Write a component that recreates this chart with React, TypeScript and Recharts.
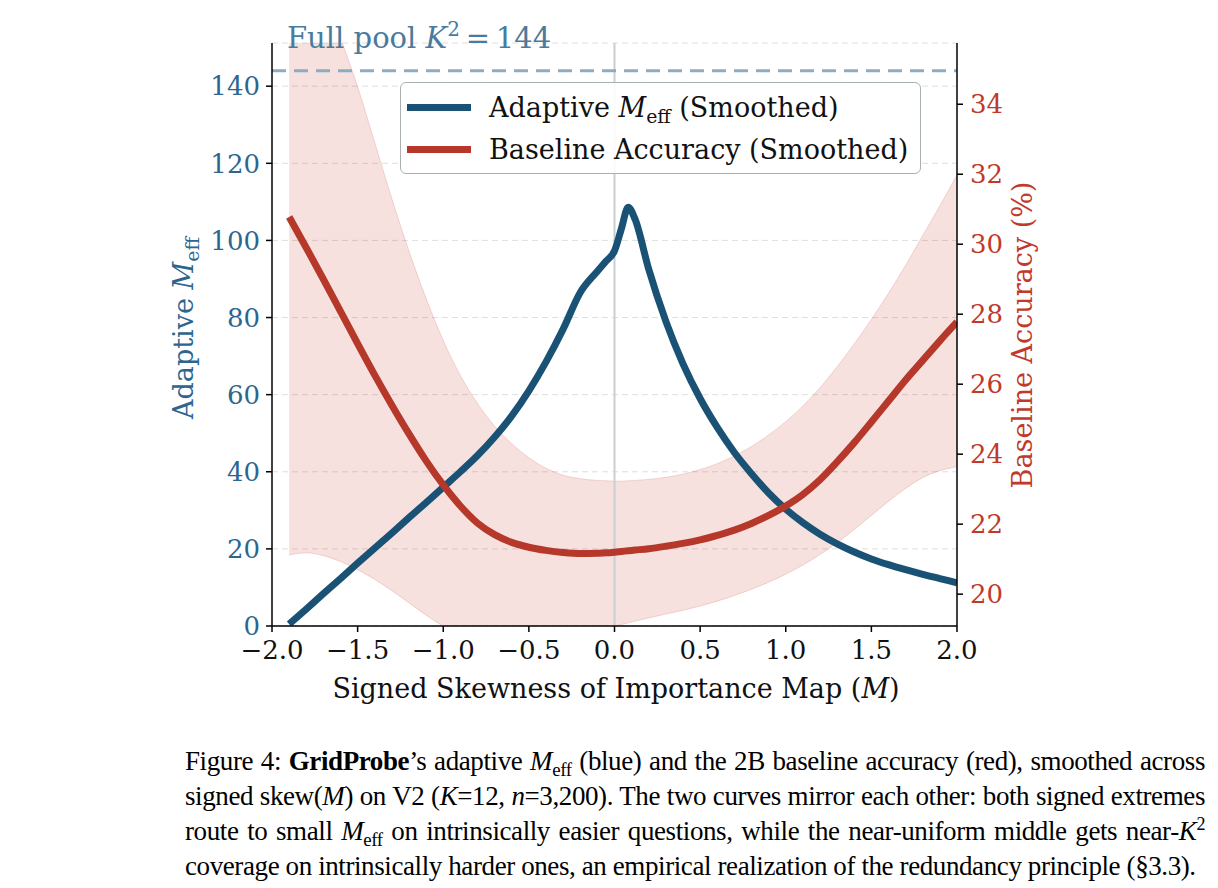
import React from "react";
import {
  ComposedChart,
  Line,
  Area,
  XAxis,
  YAxis,
  CartesianGrid,
  ReferenceLine,
  Legend,
} from "recharts";

// signed skewness sample points (x)
const XS = [
  -1.9, -1.8, -1.7, -1.6, -1.5, -1.4, -1.3, -1.2, -1.1, -1.0, -0.9, -0.8, -0.7, -0.6, -0.5, -0.4, -0.3, -0.2,
  -0.1, -0.05, 0, 0.04, 0.08, 0.12, 0.2, 0.3, 0.4, 0.5, 0.6, 0.7, 0.8, 0.9, 1.0, 1.1, 1.2, 1.3, 1.4, 1.5, 1.6,
  1.7, 1.8, 1.9, 2.0,
];

// adaptive M_eff (left axis)
const MEFF = [
  0.5, 4.4, 8.4, 12.3, 16.3, 20.2, 24.1, 28.1, 32, 36, 40, 44.2, 49, 54.5, 61, 68.5, 77, 86.5, 92, 94.6, 97.3,
  103, 108.6, 105.5, 92.5, 79, 68, 59, 51.5, 45, 39.5, 34.5, 30.3, 26.8, 23.8, 21.3, 19.2, 17.4, 15.9, 14.6,
  13.4, 12.3, 11.2,
];

// baseline accuracy % (right axis)
const ACC = [
  30.78, 29.9, 29.0, 28.08, 27.16, 26.26, 25.4, 24.58, 23.81, 23.12, 22.52, 22.03, 21.7, 21.48, 21.34, 21.25,
  21.19, 21.16, 21.17, 21.18, 21.2, 21.22, 21.24, 21.26, 21.3, 21.37, 21.45, 21.55, 21.68, 21.83, 22.02, 22.25,
  22.52, 22.85, 23.27, 23.78, 24.33, 24.92, 25.52, 26.12, 26.68, 27.24, 27.78,
];

// accuracy band
const ACC_LO = [
  21.12, 21.18, 21.1, 20.93, 20.7, 20.42, 20.1, 19.75, 19.4, 19.08, 18.8, 18.57, 18.4, 18.3, 18.27, 18.3, 18.4,
  18.55, 18.78, 18.92, 19.08, 19.13, 19.18, 19.23, 19.32, 19.43, 19.54, 19.66, 19.8, 19.96, 20.14, 20.34, 20.57,
  20.83, 21.13, 21.47, 21.85, 22.25, 22.65, 23.02, 23.33, 23.53, 23.64,
];
const ACC_HI = [
  40.5, 38.9, 37.3, 35.9, 34.5, 32.9, 31.3, 29.8, 28.45, 27.25, 26.25, 25.45, 24.8, 24.3, 23.9, 23.6, 23.4,
  23.3, 23.25, 23.24, 23.23, 23.23, 23.24, 23.25, 23.28, 23.34, 23.43, 23.56, 23.73, 23.95, 24.22, 24.55, 24.93,
  25.38, 25.9, 26.5, 27.15, 27.85, 28.6, 29.4, 30.25, 31.1, 31.98,
];

const X_TICKS = [-2, -1.5, -1, -0.5, 0, 0.5, 1, 1.5, 2];
const LEFT_TICKS = [0, 20, 40, 60, 80, 100, 120, 140];
const RIGHT_TICKS = [20, 22, 24, 26, 28, 30, 32, 34];
const FULL_POOL = 144;

const BLUE = "#1a5276";
const RED = "#b5382b";
const BLUE_TXT = "#2c6690";
const RED_TXT = "#c0392b";
const SERIF = "'DejaVu Serif', serif";

const data = XS.map((x, i) => ({
  x,
  meff: MEFF[i],
  acc: ACC[i],
  band: [ACC_LO[i], ACC_HI[i]],
}));

const fmtX = (v: number) => (v < 0 ? "\u2212" + Math.abs(v).toFixed(1) : v.toFixed(1));

const Meff = ({ size }: { size: number }) => (
  <>
    <span style={{ fontStyle: "italic" }}>M</span>
    <span style={{ fontSize: size * 0.7, verticalAlign: -size * 0.22, lineHeight: 0 }}>eff</span>
  </>
);

function LegendBox({ payload }: any) {
  const items = (payload ?? []).filter((p: any) => p.type !== "none");
  return (
    <div
      style={{
        border: "1.5px solid #a9b0b0",
        borderRadius: 6,
        background: "rgba(255,255,255,0.9)",
        padding: "3px 12px 3px 6px",
        fontFamily: SERIF,
        fontSize: 27,
        color: "#111",
      }}
    >
      {items.map((p: any) => (
        <div key={p.dataKey} style={{ display: "flex", alignItems: "center", height: 42 }}>
          <div style={{ width: 64, height: 7, background: p.color, marginRight: 18 }} />
          <span style={{ whiteSpace: "nowrap" }}>
            {p.dataKey === "meff" ? (
              <>
                Adaptive <Meff size={27} /> (Smoothed)
              </>
            ) : (
              "Baseline Accuracy (Smoothed)"
            )}
          </span>
        </div>
      ))}
    </div>
  );
}

export default function App() {
  const tickFont = { fontSize: 26, fontFamily: SERIF };
  const axisStyle = { stroke: "#000", strokeWidth: 1.5 };
  const lineStyle = { whiteSpace: "nowrap" as const, textAlign: "justify" as const, textAlignLast: "justify" as const };
  return (
    <div style={{ position: "absolute", left: 0, top: 0, width: 1218, height: 888, background: "#fff" }}>
      <ComposedChart width={1218} height={700} data={data} margin={{ top: 43, right: 171, left: 182, bottom: 4 }}>
        <CartesianGrid yAxisId="left" horizontal vertical={false} stroke="#dedede" strokeDasharray="6 4" />
        <XAxis
          dataKey="x"
          type="number"
          domain={[-2, 2]}
          ticks={X_TICKS}
          tickFormatter={fmtX}
          allowDataOverflow
          height={70}
          tick={{ ...tickFont, fill: "#111" }}
          axisLine={axisStyle}
          tickLine={axisStyle}
          tickSize={6}
          tickMargin={9}
        />
        <YAxis
          yAxisId="left"
          domain={[0, 151.2]}
          ticks={LEFT_TICKS}
          allowDataOverflow
          width={90}
          tick={{ ...tickFont, fill: BLUE_TXT }}
          axisLine={axisStyle}
          tickLine={axisStyle}
          tickSize={6}
          tickMargin={6}
        />
        <YAxis
          yAxisId="right"
          orientation="right"
          domain={[19.09, 35.75]}
          ticks={RIGHT_TICKS}
          allowDataOverflow
          width={90}
          tick={{ ...tickFont, fill: RED_TXT }}
          axisLine={axisStyle}
          tickLine={axisStyle}
          tickSize={6}
          tickMargin={7}
        />
        <ReferenceLine yAxisId="left" x={0} stroke="#c9ced2" strokeWidth={2} />
        <ReferenceLine yAxisId="left" y={FULL_POOL} stroke="#8eabc2" strokeWidth={3} strokeDasharray="14 8" />
        <Line
          yAxisId="left"
          type="monotone"
          dataKey="meff"
          name="Adaptive Meff (Smoothed)"
          stroke={BLUE}
          strokeWidth={7}
          dot={false}
          activeDot={false}
          isAnimationActive={false}
        />
        <Area
          yAxisId="right"
          type="monotone"
          dataKey="band"
          fill="#c0392b"
          fillOpacity={0.15}
          stroke="#c0392b"
          strokeOpacity={0.18}
          strokeWidth={1}
          legendType="none"
          activeDot={false}
          isAnimationActive={false}
        />
        <Line
          yAxisId="right"
          type="monotone"
          dataKey="acc"
          name="Baseline Accuracy (Smoothed)"
          stroke={RED}
          strokeWidth={7}
          dot={false}
          activeDot={false}
          isAnimationActive={false}
        />
        <Legend
          layout="vertical"
          align="center"
          verticalAlign="middle"
          content={<LegendBox />}
          wrapperStyle={{ left: 400, top: 82, width: "auto" }}
        />
      </ComposedChart>

      <svg
        width={1218}
        height={730}
        style={{ position: "absolute", left: 0, top: 0, pointerEvents: "none" }}
        fontFamily={SERIF}
      >
        <text x={287} y={48} fontSize={29} fill="#4a7a9c">
          Full pool <tspan fontStyle="italic">K</tspan>
          <tspan dy={-12} fontSize={20}>2</tspan>
          <tspan dy={12}>{"\u2009=\u2009" + FULL_POOL}</tspan>
        </text>
        <text transform="translate(193 328) rotate(-90)" textAnchor="middle" fontSize={27} fill={BLUE_TXT}>
          Adaptive <tspan fontStyle="italic">M</tspan>
          <tspan dy={6} fontSize={19}>eff</tspan>
        </text>
        <text transform="translate(1032 335) rotate(-90)" textAnchor="middle" fontSize={27} fill={RED_TXT}>
          Baseline Accuracy (%)
        </text>
        <text x={616} y={698} textAnchor="middle" fontSize={27} fill="#111">
          Signed Skewness of Importance Map (<tspan fontStyle="italic">M</tspan>)
        </text>
      </svg>

      <div
        style={{
          position: "absolute",
          left: 185,
          top: 744,
          width: 1020,
          fontFamily: "'Liberation Serif', 'Times New Roman', serif",
          fontSize: 27,
          letterSpacing: "-0.4px",
          lineHeight: "35px",
          color: "#000",
        }}
      >
        <div style={lineStyle}>
          Figure 4: <b>GridProbe</b>’s adaptive <Meff size={27} /> (blue) and the 2B baseline accuracy (red), smoothed
          across
        </div>
        <div style={lineStyle}>
          signed skew(<i>M</i>) on V2 (<i>K</i>=12, <i>n</i>=3,200). The two curves mirror each other: both signed
          extremes
        </div>
        <div style={lineStyle}>
          route to small <Meff size={27} /> on intrinsically easier questions, while the near-uniform middle gets near-
          <i>K</i>
          <sup style={{ fontSize: 18, lineHeight: 0 }}>2</sup>
        </div>
        <div style={{ whiteSpace: "nowrap" }}>
          coverage on intrinsically harder ones, an empirical realization of the redundancy principle (§3.3).
        </div>
      </div>
    </div>
  );
}
